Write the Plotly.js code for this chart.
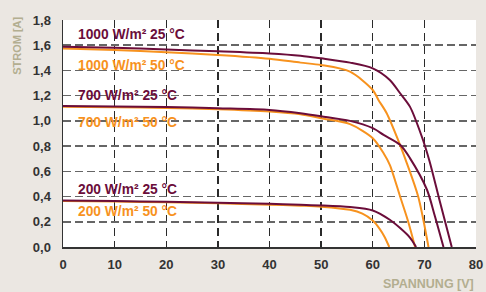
<!DOCTYPE html>
<html>
<head>
<meta charset="utf-8">
<script src="https://cdn.plot.ly/plotly-3.0.1.min.js"></script>
<style>html,body{margin:0;padding:0;background:#ebe7e2;}#chart{width:486px;height:292px;}</style>
</head>
<body>
<div id="chart"></div>
<script>
// Voltage (V) and current (A) readings per curve
const v1000_25 = [0, 10, 20, 30, 40, 46, 50, 55.6, 60, 63.3, 65.3, 67.2, 69.5, 71, 73, 75.3];
const i1000_25 = [1.588, 1.58, 1.566, 1.552, 1.535, 1.517, 1.496, 1.462, 1.417, 1.325, 1.219, 1.113, 0.876, 0.68, 0.36, 0];

const v1000_50 = [0, 10, 20, 30, 40, 46, 50, 55.6, 60, 61.1, 62.7, 64.9, 66.6, 68.8, 70.8];
const i1000_50 = [1.575, 1.562, 1.545, 1.523, 1.493, 1.462, 1.443, 1.39, 1.245, 1.166, 1.061, 0.85, 0.665, 0.40, 0];

const v700_25 = [0, 10, 20, 30, 40, 46, 50, 55.6, 60, 62.1, 65.3, 67.2, 70.5, 72, 73.7];
const i700_25 = [1.119, 1.115, 1.11, 1.1, 1.087, 1.061, 1.037, 1.0, 0.942, 0.889, 0.81, 0.705, 0.454, 0.25, 0];

const v700_50 = [0, 10, 20, 30, 40, 46, 50, 55.6, 60, 62.1, 63.3, 65.3, 66.8, 68.2];
const i700_50 = [1.113, 1.109, 1.103, 1.093, 1.075, 1.053, 1.021, 0.974, 0.863, 0.744, 0.652, 0.40, 0.21, 0];

const v200_25 = [0, 10, 20, 30, 40, 46, 50, 55.6, 60, 63.3, 65.3, 67.2, 68.4];
const i200_25 = [0.369, 0.364, 0.358, 0.35, 0.342, 0.335, 0.33, 0.317, 0.29, 0.216, 0.15, 0.075, 0];

const v200_50 = [0, 10, 20, 30, 40, 46, 50, 55.6, 58, 60, 61.4, 62.3, 63.2];
const i200_50 = [0.365, 0.36, 0.354, 0.346, 0.336, 0.328, 0.32, 0.295, 0.265, 0.21, 0.14, 0.08, 0];

const labels = ["1000 W/m² 25 °C", "1000 W/m² 50 °C", "700 W/m² 25 °C", "700 W/m² 50 °C", "200 W/m² 25 °C", "200 W/m² 50 °C"];
const labelY = [1.685, 1.44, 1.198, 0.988, 0.458, 0.28];
const labelX = [2.6, 2.6, 2.6, 2.6, 2.6, 2.6];

const xTicks = [0, 10, 20, 30, 40, 50, 60, 70, 80];
const yTicks = [0, 0.2, 0.4, 0.6, 0.8, 1.0, 1.2, 1.4, 1.6, 1.8];

const MAROON = '#6b0d3a';
const ORANGE = '#f7921e';

const series = [
  [v1000_50, i1000_50, ORANGE],
  [v1000_25, i1000_25, MAROON],
  [v700_50, i700_50, ORANGE],
  [v700_25, i700_25, MAROON],
  [v200_50, i200_50, ORANGE],
  [v200_25, i200_25, MAROON]
];

const traces = series.map(s => ({
  x: s[0], y: s[1], type: 'scatter', mode: 'lines',
  line: {color: s[2], width: 2, shape: 'spline', smoothing: 0.8},
  hoverinfo: 'skip', showlegend: false
}));

const FONT = 'Liberation Sans, Arial, sans-serif';
const annotations = labels.map((t, k) => ({
  x: labelX[k], y: labelY[k], xref: 'x', yref: 'y', text: t,
  xanchor: 'left', yanchor: 'middle', showarrow: false,
  font: {family: FONT, size: 13.8, color: (k % 2 === 0) ? MAROON : ORANGE, weight: 'bold'}
}));
annotations.push({
  x: -0.112, y: 0.885, xref: 'paper', yref: 'paper', text: 'STROM [A]',
  textangle: -90, showarrow: false, xanchor: 'center', yanchor: 'middle',
  font: {family: FONT, size: 11, color: '#b3ae90', weight: 'bold'}
});
annotations.push({
  x: 1, y: -0.165, xref: 'paper', yref: 'paper', text: 'SPANNUNG [V]',
  showarrow: false, xanchor: 'right', yanchor: 'middle',
  font: {family: FONT, size: 12.5, color: '#b3ae90', weight: 'bold'}
});

const layout = {
  width: 486, height: 292,
  margin: {l: 63, r: 10, t: 20, b: 45, pad: 0},
  paper_bgcolor: '#ebe7e2', plot_bgcolor: '#ffffff',
  separators: ',.',
  xaxis: {
    range: [0, 80], tickvals: xTicks, ticktext: xTicks.map(String),
    showgrid: true, gridcolor: '#2a2a2a', gridwidth: 1.3, griddash: '8px,5px',
    zeroline: false, showline: true, linecolor: '#333333', linewidth: 1.5,
    ticks: '', ticklen: 0, ticklabelstandoff: 5,
    tickfont: {family: FONT, size: 13, color: '#333333', weight: 'bold'}
  },
  yaxis: {
    range: [0, 1.8], tickvals: yTicks, tickformat: '.1f',
    showgrid: true, gridcolor: '#666666', gridwidth: 1.5, griddash: '8px,4px',
    zeroline: false, showline: true, linecolor: '#333333', linewidth: 1.5,
    ticks: '', ticklen: 0, ticklabelstandoff: 8,
    tickfont: {family: FONT, size: 13, color: '#333333', weight: 'bold'}
  },
  annotations: annotations
};

Plotly.newPlot('chart', traces, layout, {staticPlot: true, displayModeBar: false});
</script>
</body>
</html>
